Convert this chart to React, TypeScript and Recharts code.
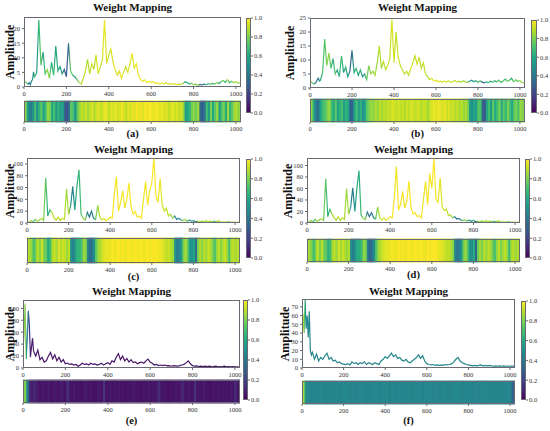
import React from "react";
import { LineChart, Line, BarChart, Bar, XAxis, YAxis } from "recharts";

const SERIF = '"Liberation Serif", "Times New Roman", "DejaVu Serif", serif';
const FRAME = "#6a6a74";
const TICK_TXT = "#333";

// Frequency bins (finer at the very start where the low-frequency spikes sit).
const FREQ = [
  0, 5, 10, 15, 20, 25, 30, 35, 40, 45, 50,
  60, 70, 80, 90, 100, 110, 120, 130, 140, 150,
  160, 170, 180, 190, 200, 210, 220, 230, 240, 250,
  260, 270, 280, 290, 300, 310, 320, 330, 340, 350,
  360, 370, 380, 390, 400, 410, 420, 430, 440, 450,
  460, 470, 480, 490, 500, 510, 520, 530, 540, 550,
  560, 570, 580, 590, 600, 610, 620, 630, 640, 650,
  660, 670, 680, 690, 700, 710, 720, 730, 740, 750,
  760, 770, 780, 790, 800, 810, 820, 830, 840, 850,
  860, 870, 880, 890, 900, 910, 920, 930, 940, 950,
  960, 970, 980, 990, 1000, 1010, 1020,
];
const X_MAX = 1024;
const X_TICKS = [0, 200, 400, 600, 800, 1000];
const CBAR_TICKS = [0, 0.2, 0.4, 0.6, 0.8, 1];

// (a)
const AMP_A = [
  2.5, 1.8, 1.5, 1.2, 1.0, 1.5, 0.8, 2.0, 2.5, 5.2, 3.5,
  5.0, 23.0, 7.5, 12.0, 4.5, 6.0, 3.0, 8.5, 4.0, 14.0,
  5.5, 7.0, 4.5, 6.0, 3.5, 15.0, 5.5, 4.0, 3.5, 2.5,
  1.5, 1.0, 3.0, 5.5, 9.5, 4.5, 8.0, 6.0, 11.0, 4.5,
  7.0, 9.0, 23.0, 8.0, 11.0, 13.0, 8.5, 6.0, 4.0, 5.5,
  3.0, 5.0, 7.0, 5.0, 8.0, 11.5, 6.5, 8.0, 4.0, 2.5,
  2.0, 2.5, 1.5, 2.0, 1.5, 1.8, 1.2, 1.5, 1.0, 1.3,
  1.0, 1.5, 0.9, 1.2, 1.0, 1.1, 0.8, 1.0, 0.9, 1.2,
  1.8, 1.5, 1.0, 1.3, 0.8, 1.0, 0.6, 0.9, 0.7, 1.0,
  0.8, 1.1, 0.9, 1.2, 1.0, 1.5, 1.2, 1.8, 2.2, 1.6,
  2.5, 1.4, 2.0, 1.5, 1.8, 1.3, 1.5,
];
const W_A = [
  0.85, 0.85, 0.8, 0.6, 0.5, 0.45, 0.45, 0.4, 0.55, 0.45, 0.7,
  0.5, 0.65, 0.75, 0.55, 0.7, 0.85, 0.8, 0.6, 0.7, 0.55,
  0.65, 0.55, 0.6, 0.3, 0.25, 0.35, 0.75, 0.7, 0.5, 0.75,
  0.85, 0.9, 0.88, 0.92, 0.86, 0.9, 0.95, 0.88, 0.93, 0.96,
  0.9, 0.94, 0.97, 0.95, 0.9, 0.96, 0.93, 0.97, 0.92, 0.95,
  0.98, 0.94, 0.9, 0.96, 0.93, 0.97, 0.95, 0.99, 0.96, 0.98,
  0.95, 0.99, 0.97, 1.0, 0.98, 0.96, 0.99, 0.97, 0.95, 0.98,
  0.93, 0.96, 0.9, 0.94, 0.97, 0.92, 0.95, 0.9, 0.93, 0.85,
  0.55, 0.6, 0.65, 0.8, 0.82, 0.78, 0.85, 0.35, 0.3, 0.4,
  0.7, 0.55, 0.8, 0.6, 0.75, 0.85, 0.55, 0.7, 0.8, 0.6,
  0.85, 0.65, 0.75, 0.85, 0.88, 0.82, 0.85,
];

// (b)
const AMP_B = [
  2.8, 2.2, 1.8, 1.6, 1.5, 1.8, 2.2, 3.0, 3.5, 2.5, 2.8,
  5.5, 17.5, 8.0, 12.5, 7.0, 10.5, 5.0, 6.5, 4.0, 11.5,
  5.5, 7.5, 4.0, 6.0, 13.5, 5.5, 7.0, 4.5, 6.5, 4.0,
  5.0, 3.0, 8.0, 5.0, 6.0, 4.5, 9.0, 15.0, 7.0, 9.5,
  6.5, 8.0, 10.5, 24.5, 9.0, 20.0, 11.0, 8.0, 6.5, 5.0,
  6.0, 4.5, 7.0, 9.0, 11.5, 8.5, 11.0, 7.0, 9.0, 5.0,
  4.0, 3.0, 3.5, 2.5, 2.8, 2.2, 2.5, 2.0, 2.4, 2.1,
  2.6, 2.0, 2.3, 2.7, 2.1, 2.4, 2.0, 2.6, 2.2, 2.0,
  2.4, 2.8, 2.2, 2.6, 2.0, 2.5, 2.1, 1.8, 2.2, 1.9,
  2.4, 2.0, 2.6, 2.2, 2.8, 2.0, 2.5, 3.2, 2.4, 2.8,
  3.5, 2.2, 2.9, 2.4, 2.6, 2.0, 1.8,
];
const W_B = [
  0.88, 0.86, 0.8, 0.65, 0.55, 0.45, 0.4, 0.38, 0.35, 0.5, 0.6,
  0.7, 0.72, 0.8, 0.85, 0.7, 0.6, 0.75, 0.55, 0.65, 0.7,
  0.55, 0.65, 0.6, 0.3, 0.35, 0.6, 0.7, 0.55, 0.65, 0.5,
  0.6, 0.75, 0.8, 0.85, 0.82, 0.88, 0.84, 0.9, 0.86, 0.9,
  0.88, 0.92, 0.9, 0.95, 0.93, 0.9, 0.94, 0.9, 0.92, 0.88,
  0.93, 0.9, 0.95, 0.92, 0.9, 0.94, 0.91, 0.88, 0.93, 0.9,
  0.86, 0.92, 0.95, 0.97, 0.95, 0.98, 0.96, 0.94, 0.97, 0.92,
  0.95, 0.9, 0.93, 0.88, 0.92, 0.86, 0.9, 0.84, 0.88, 0.8,
  0.55, 0.5, 0.6, 0.55, 0.75, 0.7, 0.3, 0.28, 0.6, 0.7,
  0.55, 0.75, 0.6, 0.7, 0.8, 0.6, 0.75, 0.65, 0.8, 0.7,
  0.6, 0.75, 0.8, 0.7, 0.85, 0.8, 0.85,
];

// (c)
const AMP_C = [
  3, 2, 1.5, 3, 4, 2.5, 2, 4.5, 6, 4, 3,
  5, 8, 4, 76, 12, 22, 18, 8, 5, 10,
  4, 8, 6, 58, 14, 30, 62, 22, 62, 90,
  15, 8, 5, 18, 10, 20, 8, 6, 30, 10,
  5, 8, 4, 6, 10, 8, 50, 78, 20, 35,
  55, 25, 40, 68, 28, 15, 20, 10, 12, 8,
  40, 70, 30, 55, 68, 110, 45, 35, 75, 30,
  20, 25, 12, 15, 8, 12, 6, 8, 5, 4,
  6, 3, 5, 3, 4, 2, 3, 2, 3, 2,
  4, 2.5, 3, 2, 3, 2, 4, 2, 1.5, 2,
  1.5, 1.8, 1.2, 1.5, 1.2, 1.0, 1.2,
];
const W_C = [
  0.9, 0.9, 0.88, 0.86, 0.85, 0.8, 0.7, 0.72, 0.75, 0.85, 0.9,
  0.82, 0.92, 0.8, 0.75, 0.6, 0.7, 0.88, 0.92, 0.85, 0.95,
  0.88, 0.93, 0.9, 0.85, 0.9, 0.5, 0.42, 0.55, 0.65, 0.65,
  0.7, 0.85, 0.82, 0.45, 0.35, 0.4, 0.5, 0.75, 0.85, 0.88,
  0.93, 0.95, 0.97, 0.96, 0.98, 1.0, 0.97, 0.99, 1.0, 0.98,
  1.0, 0.97, 0.99, 1.0, 0.98, 0.99, 1.0, 0.98, 0.99, 1.0,
  0.97, 0.99, 1.0, 0.98, 1.0, 0.99, 1.0, 0.98, 0.97, 0.95,
  0.93, 0.9, 0.92, 0.88, 0.85, 0.5, 0.4, 0.45, 0.55, 0.8,
  0.88, 0.75, 0.55, 0.5, 0.6, 0.35, 0.8, 0.88, 0.82, 0.9,
  0.85, 0.92, 0.88, 0.8, 0.7, 0.85, 0.9, 0.82, 0.88, 0.92,
  0.85, 0.7, 0.88, 0.9, 0.86, 0.9, 0.88,
];

// (d)
const AMP_D = [
  3.5, 2, 1.8, 3.5, 4.5, 2, 2.5, 5, 6.5, 3.5, 3,
  5.5, 7, 4.5, 77, 11, 24, 16, 9, 5, 11,
  4.5, 9, 6, 60, 15, 28, 61, 20, 61, 91,
  14, 8, 6, 19, 11, 18, 9, 7, 28, 9,
  5, 9, 4.5, 7, 11, 9, 45, 98, 22, 33,
  55, 26, 38, 73, 27, 16, 18, 11, 13, 9,
  42, 72, 32, 86, 60, 112, 42, 36, 78, 28,
  22, 24, 13, 14, 9, 11, 7, 8, 5, 4.5,
  5.5, 3.5, 5, 3, 4.5, 2.5, 3, 2, 3.5, 2,
  4, 2.5, 3.5, 2, 3, 2.5, 4, 2, 1.5, 2.2,
  1.6, 1.8, 1.3, 1.5, 1.3, 1.1, 1.2,
];
const W_D = [
  0.9, 0.88, 0.86, 0.84, 0.82, 0.78, 0.68, 0.7, 0.78, 0.86, 0.9,
  0.8, 0.9, 0.78, 0.74, 0.62, 0.68, 0.86, 0.9, 0.84, 0.94,
  0.86, 0.92, 0.88, 0.84, 0.88, 0.48, 0.4, 0.52, 0.62, 0.62,
  0.68, 0.84, 0.8, 0.42, 0.32, 0.38, 0.48, 0.72, 0.84, 0.88,
  0.92, 0.95, 0.96, 0.96, 0.98, 0.99, 0.97, 0.98, 1.0, 0.98,
  0.99, 0.97, 0.99, 1.0, 0.97, 0.99, 1.0, 0.98, 0.99, 0.99,
  0.97, 0.98, 1.0, 0.98, 0.99, 1.0, 0.99, 0.97, 0.96, 0.95,
  0.92, 0.9, 0.9, 0.87, 0.82, 0.45, 0.38, 0.42, 0.52, 0.78,
  0.86, 0.72, 0.52, 0.48, 0.62, 0.33, 0.78, 0.86, 0.8, 0.9,
  0.84, 0.9, 0.86, 0.78, 0.68, 0.84, 0.9, 0.8, 0.86, 0.9,
  0.84, 0.68, 0.86, 0.9, 0.85, 0.88, 0.86,
];

// (e)
const AMP_E = [
  30, 55, 108, 15, 50, 96, 72, 18, 35, 50, 28,
  20, 30, 14, 18, 10, 12, 20, 26, 15, 22,
  12, 18, 10, 14, 7, 8, 6, 7, 5, 6,
  3, 5, 8, 6, 7, 5, 8, 6, 7, 5,
  6, 8, 5, 7, 9, 6, 12, 10, 18, 24,
  14, 20, 12, 16, 10, 14, 9, 10, 7, 9,
  10, 8, 12, 15, 10, 8, 5, 6, 4, 5,
  4, 5, 3.5, 4, 3, 4, 3.5, 3, 4, 5,
  6, 9, 12, 7, 4, 3, 3.5, 2.5, 3, 2.5,
  3, 2.5, 3, 2, 2.5, 3, 2, 2.5, 2, 3,
  2, 2.5, 1.8, 2.2, 1.8, 2, 1.5,
];
const W_E = [
  0.6, 0.7, 0.92, 0.55, 0.45, 0.35, 0.15, 0.1, 0.08, 0.07, 0.12,
  0.08, 0.06, 0.05, 0.07, 0.05, 0.06, 0.08, 0.05, 0.06, 0.07,
  0.05, 0.06, 0.08, 0.05, 0.07, 0.14, 0.06, 0.05, 0.07, 0.05,
  0.06, 0.04, 0.05, 0.07, 0.06, 0.05, 0.06, 0.04, 0.05, 0.06,
  0.07, 0.05, 0.15, 0.06, 0.05, 0.07, 0.05, 0.06, 0.05, 0.07,
  0.05, 0.06, 0.04, 0.05, 0.06, 0.05, 0.07, 0.05, 0.06, 0.04,
  0.05, 0.06, 0.05, 0.07, 0.05, 0.06, 0.05, 0.07, 0.13, 0.06,
  0.05, 0.06, 0.04, 0.05, 0.06, 0.05, 0.07, 0.05, 0.06, 0.12,
  0.06, 0.05, 0.07, 0.05, 0.06, 0.14, 0.05, 0.06, 0.05, 0.07,
  0.05, 0.06, 0.04, 0.05, 0.06, 0.05, 0.07, 0.05, 0.06, 0.05,
  0.06, 0.05, 0.07, 0.05, 0.13, 0.06, 0.05,
];

// (f)
const AMP_F = [
  30, 62, 40, 78, 45, 60, 35, 65, 20, 15, 18,
  10, 16, 8, 12, 10, 14, 17, 10, 12, 8,
  9, 6, 7, 5, 4.5, 4, 5, 3.5, 7, 5,
  6, 4, 6, 5, 7, 4, 6, 5, 4, 6,
  5, 4, 8, 10, 13, 11, 14, 17, 13, 15,
  11, 12, 9, 8, 10, 7, 6, 8, 10, 12,
  15, 11, 14, 8, 5, 4, 3.5, 4, 3, 3.5,
  3, 3.5, 3, 4, 3.5, 4, 5, 7, 10, 12,
  8, 6, 5, 4, 3.5, 3, 2.5, 3, 2.5, 3,
  3.5, 2.5, 3, 2.5, 3, 2.5, 2, 2.5, 2, 2.5,
  2, 2.5, 2, 2.2, 2, 2.2, 2,
];
const W_F = [
  0.95, 0.9, 0.8, 0.55, 0.48, 0.46, 0.45, 0.47, 0.44, 0.46, 0.45,
  0.46, 0.44, 0.45, 0.47, 0.45, 0.44, 0.46, 0.45, 0.47, 0.44,
  0.45, 0.46, 0.44, 0.45, 0.47, 0.45, 0.46, 0.44, 0.45, 0.46,
  0.44, 0.45, 0.47, 0.45, 0.46, 0.44, 0.45, 0.46, 0.45, 0.47,
  0.45, 0.44, 0.46, 0.45, 0.47, 0.45, 0.44, 0.46, 0.45, 0.44,
  0.46, 0.45, 0.47, 0.44, 0.45, 0.46, 0.45, 0.44, 0.47, 0.45,
  0.46, 0.45, 0.44, 0.46, 0.45, 0.47, 0.45, 0.44, 0.46, 0.45,
  0.44, 0.46, 0.45, 0.47, 0.45, 0.44, 0.46, 0.45, 0.47, 0.45,
  0.46, 0.44, 0.45, 0.46, 0.47, 0.45, 0.44, 0.46, 0.45, 0.44,
  0.45, 0.47, 0.45, 0.46, 0.44, 0.45, 0.46, 0.45, 0.47, 0.45,
  0.44, 0.46, 0.45, 0.47, 0.45, 0.3, 0.4,
];

const VIRIDIS = ["#440154", "#482475", "#414487", "#355f8d", "#2a788e", "#21918c", "#22a884", "#44bf70", "#7ad151", "#bddf26", "#fde725"];

function rgb(h: string) {
  return [1, 3, 5].map((k) => parseInt(h.slice(k, k + 2), 16));
}
function viridis(t: number) {
  const s = Math.min(1, Math.max(0, t)) * (VIRIDIS.length - 1);
  const i = Math.min(Math.floor(s), VIRIDIS.length - 2);
  const f = s - i;
  const a = rgb(VIRIDIS[i]);
  const b = rgb(VIRIDIS[i + 1]);
  const c = a.map((v, k) => Math.round(v + (b[k] - v) * f));
  return `rgb(${c[0]},${c[1]},${c[2]})`;
}

type Box = { x: number; y: number; w: number; h: number };
type PanelCfg = {
  id: string;
  amp: number[];
  weight: number[];
  yMax: number;
  yTicks: number[];
  plot: Box;
  strip: Box;
  cbar: Box;
  titleY: number;
  labelY: number;
  yLabelX: number;
};

const PANELS: PanelCfg[] = [
  { id: "a", amp: AMP_A, weight: W_A, yMax: 24, yTicks: [0, 5, 10, 15, 20],
    plot: { x: 24, y: 17, w: 217, h: 70 }, strip: { x: 24, y: 101, w: 217, h: 21 }, cbar: { x: 246, y: 18, w: 5, h: 95 },
    titleY: 7, labelY: 134, yLabelX: 10 },
  { id: "b", amp: AMP_B, weight: W_B, yMax: 25, yTicks: [0, 5, 10, 15, 20, 25],
    plot: { x: 310, y: 18, w: 215, h: 70 }, strip: { x: 310, y: 99, w: 215, h: 23 }, cbar: { x: 531, y: 20, w: 6, h: 93 },
    titleY: 7, labelY: 134, yLabelX: 290 },
  { id: "c", amp: AMP_C, weight: W_C, yMax: 110, yTicks: [0, 20, 40, 60, 80, 100],
    plot: { x: 27, y: 158, w: 213, h: 65 }, strip: { x: 27, y: 238, w: 213, h: 25 }, cbar: { x: 246, y: 159, w: 5, h: 99 },
    titleY: 149, labelY: 277, yLabelX: 10 },
  { id: "d", amp: AMP_D, weight: W_D, yMax: 113, yTicks: [0, 20, 40, 60, 80, 100],
    plot: { x: 307, y: 158, w: 213, h: 65 }, strip: { x: 307, y: 239, w: 213, h: 23 }, cbar: { x: 525, y: 159, w: 5, h: 99 },
    titleY: 149, labelY: 275, yLabelX: 288 },
  { id: "e", amp: AMP_E, weight: W_E, yMax: 114, yTicks: [0, 20, 40, 60, 80, 100],
    plot: { x: 23, y: 300, w: 217, h: 68 }, strip: { x: 23, y: 380, w: 217, h: 23 }, cbar: { x: 243, y: 300, w: 5, h: 100 },
    titleY: 291, labelY: 421, yLabelX: 10 },
  { id: "f", amp: AMP_F, weight: W_F, yMax: 79, yTicks: [0, 10, 20, 30, 40, 50, 60, 70],
    plot: { x: 302, y: 299, w: 213, h: 69 }, strip: { x: 302, y: 381, w: 213, h: 23 }, cbar: { x: 521, y: 301, w: 5, h: 99 },
    titleY: 291, labelY: 421, yLabelX: 285 },
];

const tickFont = { fontSize: 6.5, fill: TICK_TXT, fontFamily: SERIF };
const FREQ_LAST = FREQ[FREQ.length - 1];
const PAD = 5; // room above/below plot areas so end tick labels are not clipped

function Txt({ x, y, size, rotate, children }: { x: number; y: number; size: number; rotate?: boolean; children: React.ReactNode }) {
  return (
    <div
      style={{
        position: "absolute",
        left: x,
        top: y,
        transform: `translate(-50%, -50%)${rotate ? " rotate(-90deg)" : ""}`,
        fontFamily: SERIF,
        fontWeight: "bold",
        fontSize: size,
        whiteSpace: "nowrap",
        color: "#111",
        lineHeight: 1,
      }}
    >
      {children}
    </div>
  );
}

function Frame({ b }: { b: Box }) {
  return (
    <div style={{ position: "absolute", left: b.x, top: b.y, width: b.w, height: b.h, border: `1px solid ${FRAME}`, boxSizing: "border-box", pointerEvents: "none" }} />
  );
}

function Panel({ cfg }: { cfg: PanelCfg }) {
  const { plot, strip, cbar } = cfg;
  const rows = FREQ.map((x, i) => ({ x, amp: cfg.amp[i] }));
  // one stacked horizontal bar per weight bin -> the heat strip
  const cells = FREQ.map((x, i) => ({ span: (FREQ[i + 1] ?? X_MAX) - x, color: viridis(cfg.weight[i]) }));
  const stripRow = [Object.fromEntries(cells.map((c, i) => [`b${i}`, c.span]))];
  const cx = plot.x + plot.w / 2;

  return (
    <>
      <Txt x={cx} y={cfg.titleY} size={11}>Weight Mapping</Txt>
      <Txt x={cfg.yLabelX} y={plot.y + plot.h / 2} size={12} rotate>Amplitude</Txt>
      <Txt x={cx} y={cfg.labelY} size={10.5}>({cfg.id})</Txt>

      <div style={{ position: "absolute", left: plot.x - 22, top: plot.y - PAD }}>
        <LineChart width={plot.w + 24} height={plot.h + PAD + 12} data={rows} margin={{ top: PAD, right: 2, bottom: 0, left: 0 }}>
          <XAxis type="number" dataKey="x" domain={[0, X_MAX]} ticks={X_TICKS} interval={0} height={12} tickSize={2}
            axisLine={false} tickLine={{ stroke: FRAME }} tick={tickFont} allowDataOverflow />
          <YAxis type="number" domain={[0, cfg.yMax]} ticks={cfg.yTicks} interval={0} width={22} tickSize={2}
            axisLine={false} tickLine={{ stroke: FRAME }} tick={tickFont} allowDataOverflow />
          <Line type="linear" dataKey="amp" stroke={`url(#lg-${cfg.id})`} strokeWidth={1.2} dot={false} isAnimationActive={false} />
        </LineChart>
      </div>
      <Frame b={plot} />

      <div style={{ position: "absolute", left: strip.x - 22, top: strip.y - 2 }}>
        <BarChart layout="vertical" width={strip.w + 24} height={strip.h + 14} data={stripRow}
          margin={{ top: 2, right: 2, bottom: 0, left: 22 }} barCategoryGap={0}>
          <XAxis type="number" domain={[0, X_MAX]} ticks={X_TICKS} interval={0} height={12} tickSize={2}
            axisLine={false} tickLine={{ stroke: FRAME }} tick={tickFont} allowDataOverflow />
          <YAxis type="category" hide />
          {cells.map((c, i) => (
            <Bar key={i} dataKey={`b${i}`} stackId="w" fill={c.color} stroke={c.color} strokeWidth={1} isAnimationActive={false} />
          ))}
        </BarChart>
      </div>
      <Frame b={strip} />

      <div style={{ position: "absolute", left: cbar.x, top: cbar.y - PAD }}>
        <BarChart width={cbar.w + 20} height={cbar.h + 2 * PAD} data={[{ k: "c", v: 1 }]}
          margin={{ top: PAD, right: 0, bottom: PAD, left: 0 }} barCategoryGap={0}>
          <XAxis dataKey="k" hide />
          <YAxis orientation="right" type="number" domain={[0, 1]} ticks={CBAR_TICKS} interval={0} width={20} tickSize={2} tickMargin={1}
            axisLine={false} tickLine={{ stroke: FRAME }} tick={tickFont} tickFormatter={(v: number) => v.toFixed(1)} />
          <Bar dataKey="v" fill="url(#cbar-grad)" isAnimationActive={false} />
        </BarChart>
      </div>
      <Frame b={cbar} />
    </>
  );
}

export default function App() {
  return (
    <div style={{ position: "absolute", left: 0, top: 0, width: 550, height: 431, background: "#fff", overflow: "hidden" }}>
      <svg width={0} height={0} style={{ position: "absolute" }}>
        <defs>
          <linearGradient id="cbar-grad" x1="0" y1="1" x2="0" y2="0">
            {VIRIDIS.map((c, k) => (
              <stop key={k} offset={k / (VIRIDIS.length - 1)} stopColor={c} />
            ))}
          </linearGradient>
          {PANELS.map((p) => (
            <linearGradient key={p.id} id={`lg-${p.id}`} x1="0" y1="0" x2="1" y2="0">
              {FREQ.map((x, i) => (
                <stop key={x} offset={x / FREQ_LAST} stopColor={viridis(p.weight[i])} />
              ))}
            </linearGradient>
          ))}
        </defs>
      </svg>
      {PANELS.map((p) => (
        <Panel key={p.id} cfg={p} />
      ))}
    </div>
  );
}
